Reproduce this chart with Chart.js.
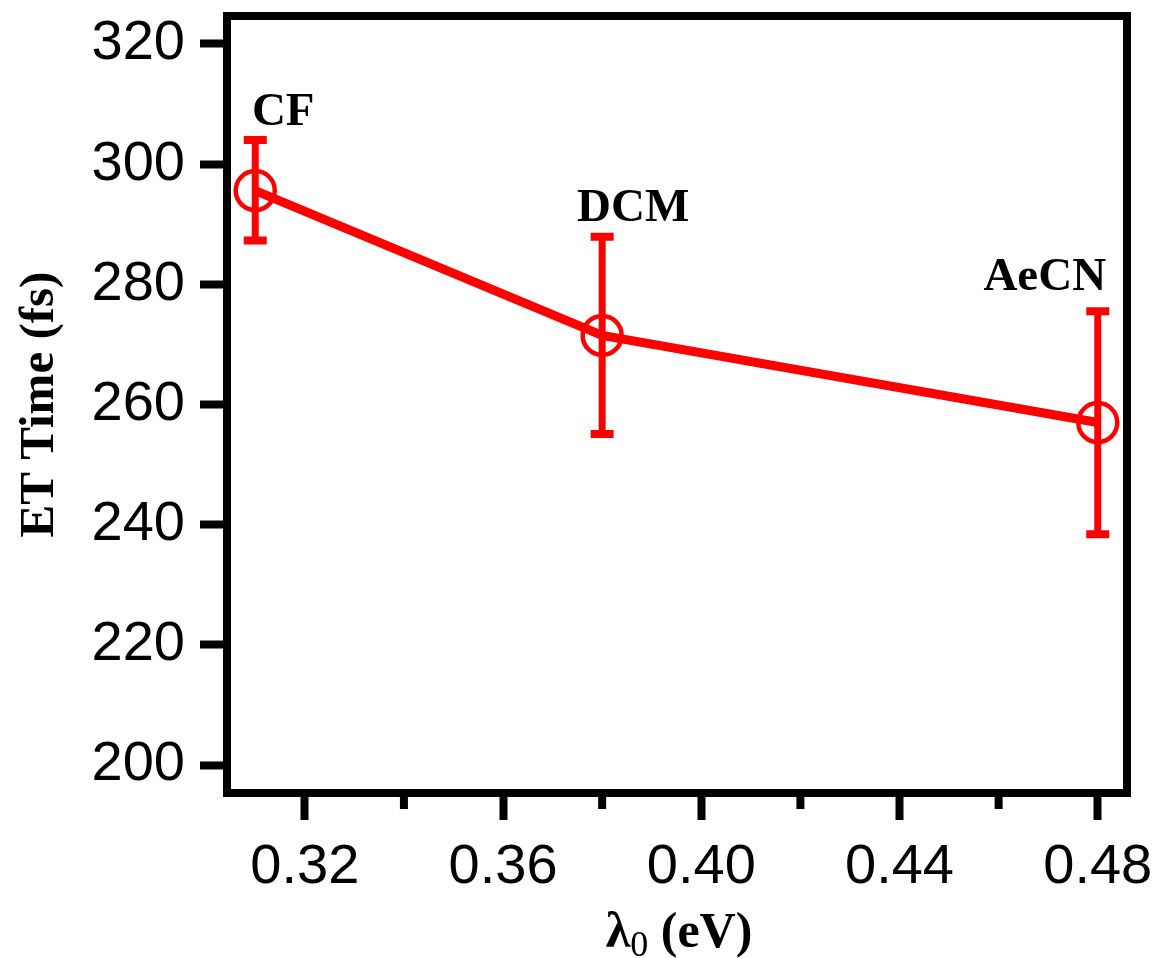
<!DOCTYPE html>
<html>
<head>
<meta charset="utf-8">
<script src="https://cdn.jsdelivr.net/npm/chart.js@4.4.1/dist/chart.umd.min.js"></script>
<style>body{margin:0;background:#fff}</style>
</head>
<body>
<canvas id="et-chart" width="1159" height="958"></canvas>
<script>
var solvents = ["CF", "DCM", "AeCN"];
var lambda0 = [0.31, 0.38, 0.48];
var etTime = [295.6, 271.5, 257.0];
var errLow = [287.3, 255.1, 238.4];
var errHigh = [304.0, 287.9, 275.5];

var yTicks = [200, 220, 240, 260, 280, 300, 320];
var xMajor = [0.32, 0.36, 0.40, 0.44, 0.48];
var xMinor = [0.34, 0.38, 0.42, 0.46];

// where the solvent names sit, relative to the top of each error bar
var labelShift = [[28, -15], [31, -16], [-53, -21]];

var points = lambda0.map(function (x, i) { return {x: x, y: etTime[i]}; });

var extras = {
  id: 'extras',
  afterDatasetsDraw: function (chart) {
    var c = chart.ctx, xs = chart.scales.x, ys = chart.scales.y, a = chart.chartArea;
    c.save();

    // error bars + solvent labels
    for (var i = 0; i < lambda0.length; i++) {
      var px = xs.getPixelForValue(lambda0[i]);
      var top = ys.getPixelForValue(errHigh[i]);
      var bot = ys.getPixelForValue(errLow[i]);
      c.strokeStyle = '#ff0000';
      c.lineWidth = 7;
      c.beginPath(); c.moveTo(px, top); c.lineTo(px, bot); c.stroke();
      c.lineWidth = 8;
      c.beginPath();
      c.moveTo(px - 11.5, top); c.lineTo(px + 11.5, top);
      c.moveTo(px - 11.5, bot); c.lineTo(px + 11.5, bot);
      c.stroke();

      c.fillStyle = '#000';
      c.font = 'bold 47px "Liberation Serif"';
      c.textAlign = 'center';
      c.textBaseline = 'alphabetic';
      c.fillText(solvents[i], px + labelShift[i][0], top + labelShift[i][1]);
    }

    // box
    c.strokeStyle = '#000';
    c.lineWidth = 8;
    c.strokeRect(a.left, a.top, a.right - a.left, a.bottom - a.top);

    // minor x ticks
    c.beginPath();
    xMinor.forEach(function (v) {
      var p = xs.getPixelForValue(v);
      c.moveTo(p, a.bottom); c.lineTo(p, a.bottom + 16);
    });
    c.stroke();

    // x title with subscript
    var big = 'bold 50px "Liberation Serif"', small = '36px "Liberation Serif"';
    c.font = big; var w1 = c.measureText('\u03bb').width, w3 = c.measureText(' (eV)').width;
    c.font = small; var w2 = c.measureText('0').width;
    var x0 = 679 - (w1 + w2 + w3) / 2, base = 947;
    c.textAlign = 'left';
    c.font = big; c.fillText('\u03bb', x0, base);
    c.font = small; c.fillText('0', x0 + w1, base + 9);
    c.font = big; c.fillText(' (eV)', x0 + w1 + w2, base);

    c.restore();
  }
};

var chart = new Chart(document.getElementById('et-chart'), {
  type: 'line',
  data: {
    datasets: [{
      data: points,
      borderColor: '#ff0000',
      borderWidth: 9,
      pointStyle: 'circle',
      pointRadius: 19.5,
      pointHoverRadius: 19.5,
      pointBorderWidth: 4.5,
      pointBorderColor: '#ff0000',
      pointBackgroundColor: 'rgba(0,0,0,0)',
      tension: 0,
      clip: false
    }]
  },
  options: {
    responsive: false,
    animation: false,
    events: [],
    layout: {autoPadding: false, padding: {top: 16, right: 32, left: 0, bottom: 0}},
    plugins: {legend: {display: false}, tooltip: {enabled: false}},
    scales: {
      x: {
        type: 'linear',
        min: 0.3043,
        max: 0.4859,
        afterBuildTicks: function (axis) {
          axis.ticks = xMajor.map(function (v) { return {value: v}; });
        },
        afterFit: function (axis) {
          axis.height = 165;
          axis.paddingLeft = 0; axis.paddingRight = 0;
        },
        border: {display: false},
        grid: {drawOnChartArea: false, drawTicks: true, tickLength: 27, tickWidth: 8, tickColor: '#000'},
        ticks: {
          color: '#000',
          padding: 14,
          maxRotation: 0,
          font: {family: '"Liberation Sans"', size: 56},
          callback: function (v) { return v.toFixed(2); }
        }
      },
      y: {
        min: 195.35,
        max: 324.65,
        afterBuildTicks: function (axis) {
          axis.ticks = yTicks.map(function (v) { return {value: v}; });
        },
        afterFit: function (axis) {
          axis.width = 227;
          axis.paddingTop = 0; axis.paddingBottom = 0;
        },
        border: {display: false},
        grid: {drawOnChartArea: false, drawTicks: true, tickLength: 27, tickWidth: 8, tickColor: '#000'},
        ticks: {
          color: '#000',
          padding: 15,
          font: {family: '"Liberation Sans"', size: 56}
        },
        title: {
          display: true,
          text: 'ET Time (fs)',
          color: '#000',
          padding: {top: 11, bottom: 0},
          font: {family: '"Liberation Serif"', size: 49, weight: 'bold'}
        }
      }
    }
  },
  plugins: [extras]
});
</script>
</body>
</html>
